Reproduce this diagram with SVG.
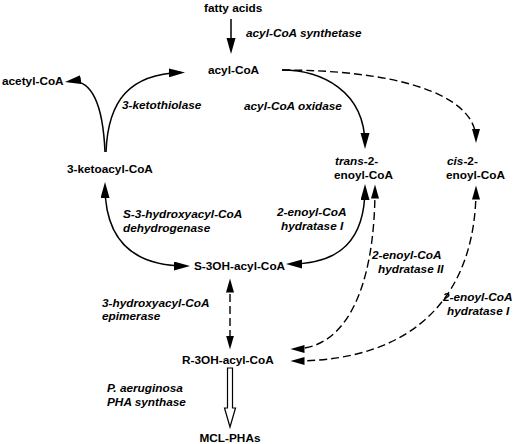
<svg xmlns="http://www.w3.org/2000/svg" width="516" height="444" viewBox="0 0 516 444">
<style>
text{font-family:"Liberation Sans",Arial,sans-serif;font-size:11.8px;font-weight:bold;fill:#000}
.i{font-style:italic}
.c{fill:none;stroke:#000;stroke-width:1.5}
.d{fill:none;stroke:#000;stroke-width:1.4;stroke-dasharray:8 4}
</style>
<defs>
<marker id="a" markerUnits="userSpaceOnUse" markerWidth="17" markerHeight="10" refX="12" refY="4.5" orient="auto-start-reverse" viewBox="0 0 17 10"><path d="M0,0 L16,4.5 L0,9 Z" fill="#000"/></marker>
<marker id="b" markerUnits="userSpaceOnUse" markerWidth="15" markerHeight="9" refX="10.5" refY="4" orient="auto-start-reverse" viewBox="0 0 15 9"><path d="M0,0 L14,4 L0,8 Z" fill="#000"/></marker>
</defs>
<g id="fatty-acids"><text x="204" y="12">fatty acids</text></g>
<g id="acyl-CoA"><text x="208" y="74">acyl-CoA</text></g>
<g id="acetyl-CoA"><text x="2" y="85">acetyl-CoA</text></g>
<g id="ketoacyl-CoA"><text x="67" y="173">3-ketoacyl-CoA</text></g>
<g id="trans-enoyl"><text x="335" y="165"><tspan class="i">trans</tspan>-2-</text><text x="334" y="179">enoyl-CoA</text></g>
<g id="cis-enoyl"><text x="447" y="165"><tspan class="i">cis</tspan>-2-</text><text x="446" y="179">enoyl-CoA</text></g>
<g id="S-3OH"><text x="194" y="270">S-3OH-acyl-CoA</text></g>
<g id="R-3OH"><text x="182" y="364">R-3OH-acyl-CoA</text></g>
<g id="MCL-PHAs"><text x="230" y="442" text-anchor="middle">MCL-PHAs</text></g>
<g id="labels">
<text class="i" x="246" y="37">acyl-CoA synthetase</text>
<text class="i" x="122" y="109">3-ketothiolase</text>
<text class="i" x="244" y="110">acyl-CoA oxidase</text>
<text class="i" x="123" y="218">S-3-hydroxyacyl-CoA</text>
<text class="i" x="123" y="232">dehydrogenase</text>
<text class="i" x="277" y="216">2-enoyl-CoA</text>
<text class="i" x="281" y="230">hydratase I</text>
<text class="i" x="372" y="259">2-enoyl-CoA</text>
<text class="i" x="378" y="273">hydratase II</text>
<text class="i" x="443" y="301">2-enoyl-CoA</text>
<text class="i" x="447" y="315">hydratase I</text>
<text class="i" x="102" y="307">3-hydroxyacyl-CoA</text>
<text class="i" x="102" y="320">epimerase</text>
<text class="i" x="107" y="392">P. aeruginosa</text>
<text class="i" x="107" y="406">PHA synthase</text>
</g>
<g id="connectors">
<path class="c" d="M231,19 L231,50" marker-end="url(#a)"/>
<path class="c" d="M105,152 C103,105 92,78 69,81.5" marker-end="url(#a)"/>
<path class="c" d="M106,152 C108,100 130,74 181,72.5" marker-end="url(#a)"/>
<path class="c" d="M282,70 C320,70 365,90 365,145" marker-end="url(#a)"/>
<path class="d" d="M282,70 C390,70 476,92 476,139.5" marker-end="url(#b)"/>
<path class="c" d="M105,186 C105,235 128,266 186,266" marker-start="url(#a)" marker-end="url(#a)"/>
<path class="c" d="M365,188 C365,240 340,264 290,264" marker-start="url(#a)" marker-end="url(#a)"/>
<path class="d" d="M375,188 C375,290 345,349 294,349" marker-start="url(#b)" marker-end="url(#b)"/>
<path class="d" d="M476,189 C476,290 420,361 294,361" marker-start="url(#b)" marker-end="url(#b)"/>
<path class="d" d="M230,282 L230,346" marker-start="url(#b)" marker-end="url(#b)"/>
<path d="M227.5,368 L232.5,368 L232.5,408 L235.5,408 L230,427 L224.5,408 L227.5,408 Z" fill="#fff" stroke="#000" stroke-width="1.2"/>
</g>
</svg>
